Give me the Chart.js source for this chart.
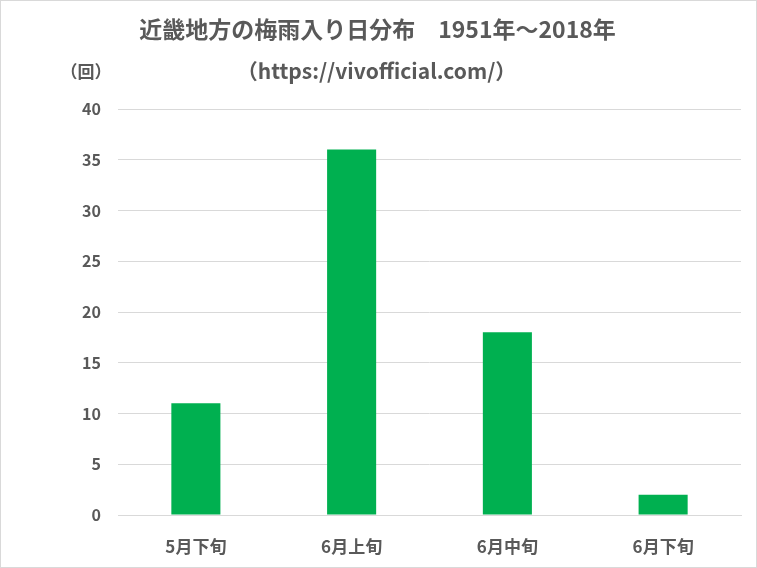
<!DOCTYPE html>
<html>
<head>
<meta charset="utf-8">
<script src="https://cdn.jsdelivr.net/npm/chart.js@4"></script>
<style>
  html, body { margin: 0; padding: 0; background: #fff; }
  #wrap { width: 757px; height: 568px; box-sizing: border-box; border: 1px solid #d9d9d9; background: #fff; }
  #c { display: block; }
</style>
</head>
<body>
<div id="wrap"><canvas id="c" width="755" height="566"></canvas></div>
<script>
  var categories = ["5月下旬", "6月上旬", "6月中旬", "6月下旬"];
  var counts = [11, 36, 18, 2];
  var titleLines = ["近畿地方の梅雨入り日分布　1951年～2018年", "（https://vivofficial.com/）"];
  var unitLabel = "（回）";

  var TEXT = "#595959";
  var GRID = "#d9d9d9";
  var BAR = "#00b050";
  var FONT = "'Noto Sans CJK JP', 'Noto Sans', sans-serif";

  // two-line title and the unit label, placed relative to the plot area
  var headerPlugin = {
    id: "header",
    afterDraw: function (chart) {
      var c = chart.ctx;
      var area = chart.chartArea;
      var mid = chart.width / 2;
      c.save();
      c.fillStyle = TEXT;
      c.textAlign = "center";
      c.textBaseline = "middle";
      c.font = "bold 23px " + FONT;
      c.fillText(titleLines[0], mid - 1, area.top - 80);
      c.font = "bold 21px " + FONT;
      c.fillText(titleLines[1], mid - 2, area.top - 38);
      c.font = "bold 17px " + FONT;
      c.fillText(unitLabel, area.left - 32, area.top - 37);
      c.restore();
    }
  };

  new Chart(document.getElementById("c").getContext("2d"), {
    type: "bar",
    plugins: [headerPlugin],
    data: {
      labels: categories,
      datasets: [{
        data: counts,
        backgroundColor: BAR,
        categoryPercentage: 1,
        barPercentage: 0.315
      }]
    },
    options: {
      responsive: false,
      animation: false,
      layout: { padding: { left: 0, right: 15, top: 108, bottom: 0 } },
      plugins: {
        legend: { display: false },
        tooltip: { enabled: false },
        title: { display: false }
      },
      scales: {
        x: {
          grid: { display: false },
          border: { color: GRID, width: 1 },
          ticks: { color: TEXT, font: { family: FONT, size: 17, weight: "bold" }, padding: 13 },
          afterFit: function (s) { s.height = 52; }
        },
        y: {
          min: 0,
          max: 40,
          ticks: { stepSize: 5, color: TEXT, font: { family: FONT, size: 16, weight: "bold" }, padding: 17 },
          grid: { color: GRID, drawTicks: false },
          border: { display: false },
          afterFit: function (s) { s.width = 117; }
        }
      }
    }
  });
</script>
</body>
</html>
